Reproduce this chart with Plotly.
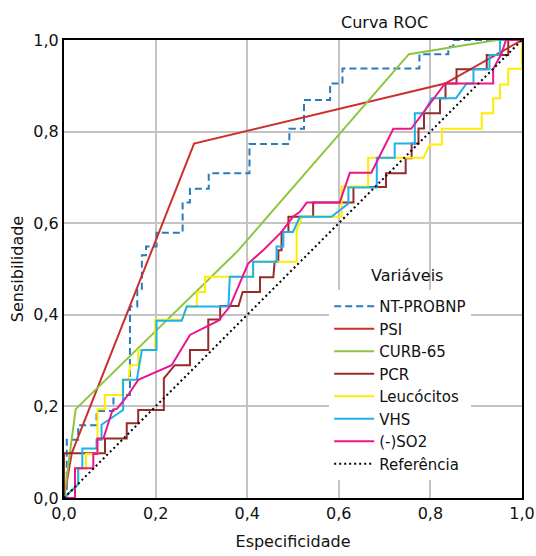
import plotly.graph_objects as go

# ---- data ----
ntprobnp_x = [0, 0.006, 0.006, 0.031, 0.031, 0.071, 0.071, 0.108, 0.108, 0.144, 0.144, 0.16, 0.16, 0.17, 0.17, 0.179, 0.179,
              0.202, 0.202, 0.259, 0.259, 0.275, 0.275, 0.316, 0.316, 0.405, 0.405, 0.492, 0.492, 0.524, 0.524, 0.581,
              0.581, 0.608, 0.608, 0.776, 0.776, 0.839, 0.839, 0.85, 0.85, 1.0]
ntprobnp_y = [0, 0, 0.127, 0.127, 0.159, 0.159, 0.19, 0.19, 0.225, 0.225, 0.418, 0.418, 0.454, 0.454, 0.53, 0.53, 0.549,
              0.549, 0.579, 0.579, 0.645, 0.645, 0.675, 0.675, 0.709, 0.709, 0.773, 0.773, 0.806, 0.806, 0.869, 0.869,
              0.905, 0.905, 0.938, 0.938, 0.969, 0.969, 0.985, 0.985, 1.0, 1.0]

psi_x = [0, 0.017, 0.284, 0.832, 1.0]
psi_y = [0, 0.098, 0.774, 0.905, 1.0]

curb_x = [0, 0.0255, 0.38, 0.753, 0.945, 1.0]
curb_y = [0, 0.194, 0.54, 0.969, 1.0, 1.0]

pcr_x = [0, 0, 0.0895, 0.0895, 0.137, 0.137, 0.162, 0.162, 0.218, 0.218, 0.242, 0.275, 0.275, 0.315, 0.315, 0.341,
         0.341, 0.381, 0.39, 0.428, 0.428, 0.457, 0.46, 0.468, 0.468, 0.475, 0.475, 0.49, 0.49, 0.544, 0.544, 0.632,
         0.632, 0.703, 0.703, 0.746, 0.746, 0.759, 0.759, 0.774, 0.774, 0.786, 0.786, 0.821, 0.821, 0.833, 0.833,
         0.857, 0.857, 0.923, 0.923, 0.97, 0.97, 1.0]
pcr_y = [0, 0.0975, 0.0975, 0.13, 0.13, 0.163, 0.163, 0.192, 0.192, 0.261, 0.29, 0.29, 0.323, 0.323, 0.39, 0.39,
         0.419, 0.419, 0.45, 0.45, 0.482, 0.482, 0.516, 0.516, 0.541, 0.541, 0.581, 0.581, 0.614, 0.614, 0.645, 0.645,
         0.679, 0.679, 0.709, 0.709, 0.742, 0.742, 0.774, 0.774, 0.807, 0.807, 0.84, 0.84, 0.873, 0.873, 0.905,
         0.905, 0.936, 0.936, 0.967, 0.967, 1.0, 1.0]

leuco_x = [0, 0.031, 0.031, 0.048, 0.048, 0.073, 0.073, 0.089, 0.089, 0.128, 0.128, 0.141, 0.144, 0.162, 0.162, 0.199,
           0.199, 0.257, 0.268, 0.29, 0.29, 0.308, 0.308, 0.413, 0.413, 0.508, 0.508, 0.52, 0.606, 0.606, 0.664,
           0.664, 0.785, 0.799, 0.825, 0.825, 0.912, 0.912, 0.937, 0.937, 0.952, 0.952, 0.97, 0.97, 1.0, 1.0]
leuco_y = [0, 0.03, 0.065, 0.065, 0.096, 0.096, 0.194, 0.194, 0.225, 0.225, 0.258, 0.258, 0.29, 0.29, 0.323, 0.323,
           0.389, 0.389, 0.418, 0.418, 0.45, 0.45, 0.483, 0.483, 0.516, 0.516, 0.585, 0.614, 0.614, 0.68, 0.68,
           0.743, 0.743, 0.772, 0.772, 0.806, 0.806, 0.84, 0.84, 0.873, 0.873, 0.903, 0.903, 0.937, 0.937, 1.0]

vhs_x = [0, 0.031, 0.031, 0.04, 0.04, 0.071, 0.071, 0.082, 0.082, 0.129, 0.129, 0.159, 0.17, 0.202, 0.202, 0.257,
         0.268, 0.359, 0.362, 0.413, 0.413, 0.464, 0.464, 0.479, 0.479, 0.5, 0.515, 0.584, 0.621, 0.621, 0.683,
         0.683, 0.722, 0.722, 0.766, 0.766, 0.785, 0.803, 0.856, 0.879, 0.894, 0.894, 0.929, 0.929, 0.952, 0.952, 1.0]
vhs_y = [0, 0.03, 0.065, 0.065, 0.108, 0.108, 0.127, 0.127, 0.16, 0.192, 0.258, 0.258, 0.323, 0.323, 0.387, 0.387,
         0.418, 0.418, 0.483, 0.483, 0.516, 0.516, 0.549, 0.549, 0.581, 0.581, 0.614, 0.614, 0.643, 0.678, 0.678,
         0.743, 0.743, 0.774, 0.774, 0.84, 0.84, 0.873, 0.873, 0.905, 0.905, 0.936, 0.936, 0.967, 0.967, 1.0, 1.0]

so2_x = [0, 0.024, 0.024, 0.064, 0.064, 0.073, 0.073, 0.086, 0.106, 0.116, 0.14, 0.162, 0.235, 0.275, 0.337, 0.362,
         0.402, 0.435, 0.475, 0.5, 0.515, 0.53, 0.602, 0.624, 0.671, 0.719, 0.758, 0.784, 0.832, 0.937, 0.937,
         0.955, 0.965, 1.0]
so2_y = [0, 0, 0.065, 0.065, 0.096, 0.096, 0.13, 0.13, 0.192, 0.195, 0.225, 0.258, 0.29, 0.356, 0.387, 0.418,
         0.512, 0.541, 0.581, 0.614, 0.625, 0.645, 0.645, 0.71, 0.71, 0.806, 0.806, 0.84, 0.905, 0.905, 0.936,
         0.97, 1.0, 1.0]

ref_x = [0, 1]
ref_y = [0, 1]

series = [
    ("NT-PROBNP", ntprobnp_x, ntprobnp_y, "#2a7bbb", "7px,4px"),
    ("PSI", psi_x, psi_y, "#cc2f2f", "solid"),
    ("CURB-65", curb_x, curb_y, "#8cc63e", "solid"),
    ("PCR", pcr_x, pcr_y, "#962b2b", "solid"),
    ("Leucócitos", leuco_x, leuco_y, "#ffec00", "solid"),
    ("VHS", vhs_x, vhs_y, "#1cb2ec", "solid"),
    ("(-)SO2", so2_x, so2_y, "#ec168c", "solid"),
    ("Referência", ref_x, ref_y, "#000000", "2px,3px"),
]

FONT = "DejaVu Sans"
TXT = "#111111"

fig = go.Figure()
for name, xs, ys, col, dash in series:
    fig.add_trace(go.Scatter(x=xs, y=ys, mode="lines", name=name,
                             line=dict(color=col, width=2, dash=dash)))

axis_common = dict(range=[0, 1], dtick=0.2, tickformat=".1f", showgrid=True,
                   gridcolor="#c3c3c3", gridwidth=2, zeroline=False,
                   showline=True, linecolor="#000000", linewidth=2, mirror=True,
                   ticks="", automargin=False,
                   tickfont=dict(family=FONT, size=16, color=TXT))

fig.update_layout(
    width=536, height=556,
    margin=dict(l=64, r=14, t=40, b=58),
    paper_bgcolor="white", plot_bgcolor="white",
    separators=",.",
    font=dict(family=FONT, size=16, color=TXT),
    xaxis=dict(**axis_common, title=dict(text="Especificidade", standoff=14,
                                         font=dict(family=FONT, size=16, color=TXT))),
    yaxis=dict(**axis_common, title=dict(text="Sensibilidade", standoff=6,
                                         font=dict(family=FONT, size=16, color=TXT))),
    showlegend=True,
    legend=dict(x=0.579, y=0.454, xanchor="left", yanchor="top",
                bgcolor="white", borderwidth=0,
                font=dict(family=FONT, size=15, color=TXT), itemwidth=40, tracegroupgap=0),
    shapes=[dict(type="rect", xref="paper", yref="paper",
                 x0=(323 - 64) / 458, x1=(517 - 64) / 458,
                 y0=(498 - 483) / 458, y1=(498 - 238) / 458,
                 fillcolor="white", line=dict(width=0), layer="between")],
    annotations=[
        dict(text="Curva ROC", xref="paper", yref="paper", x=0.699, y=1.0,
             yshift=18, xanchor="center", yanchor="middle", showarrow=False,
             font=dict(family=FONT, size=16, color=TXT)),
        dict(text="Variáveis", xref="paper", yref="paper", x=(407 - 64) / 458, y=(498 - 275) / 458,
             xanchor="center", yanchor="middle", showarrow=False,
             font=dict(family=FONT, size=16, color=TXT)),
    ],
)

fig.write_html("out.html", config={"displayModeBar": False},
               post_script="document.body.style.margin='0px';document.body.style.overflow='hidden';")
